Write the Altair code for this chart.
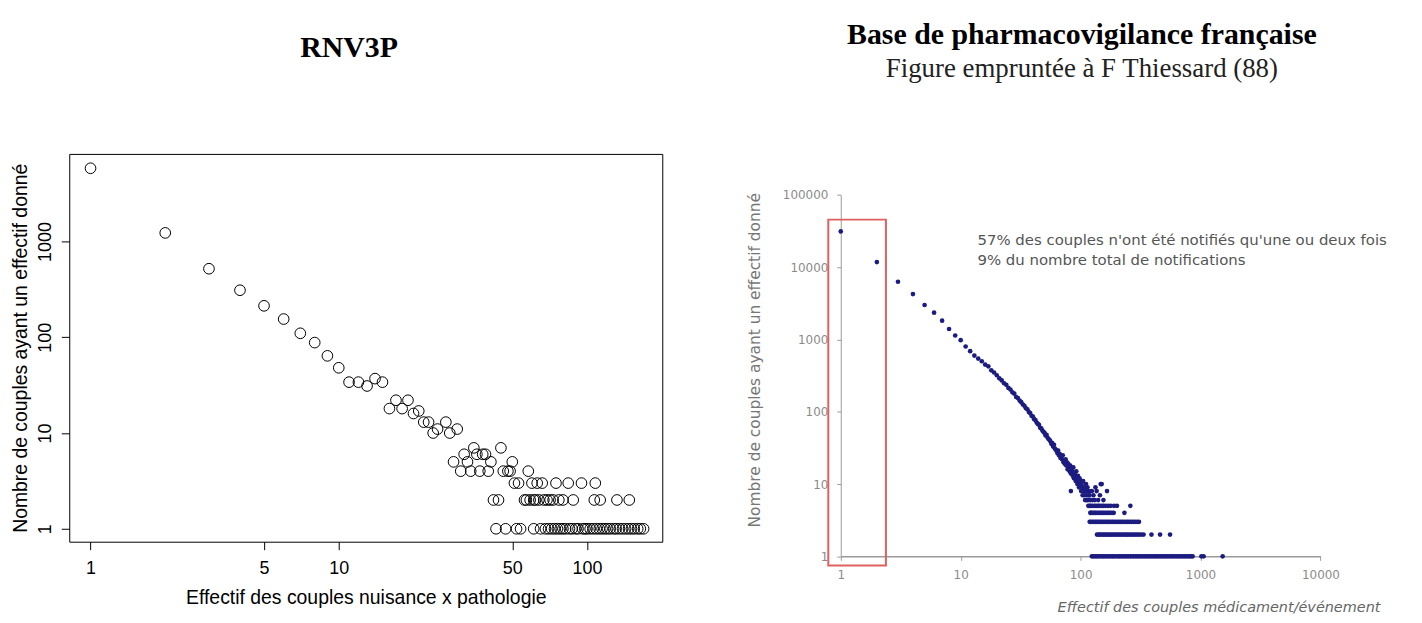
import altair as alt
import pandas as pd

# ================= DATA =================
# --- Left panel : RNV3P (effectif -> nombre de couples) ---
left_x = [1, 2, 3, 4, 5, 6, 7, 8, 9, 10,
          11, 12, 13, 14, 15,
          16, 17, 18, 19, 20, 21,
          22, 23, 24, 25, 27, 28, 30,
          29, 31, 32, 33, 34, 35, 36, 37, 38, 39, 40, 41,
          45, 46, 48, 49, 50,
          51, 53, 58, 60, 63, 66, 75, 84, 95, 108]
left_y = [5820, 1230, 520, 310, 213, 155, 110, 88, 64, 48,
          34, 34, 31, 37, 34,
          18, 22, 18, 22, 16, 17,
          13, 13, 10, 11, 13, 10, 11,
          5, 4, 6, 5, 4, 7, 6, 4, 6, 6, 4, 5,
          7, 4, 4, 4, 5,
          3, 3, 4, 3, 3, 3, 3, 3, 3, 3]
left_row2_x = [42, 44, 56, 57, 59, 61, 62, 64, 67, 69, 71, 73, 77, 80, 88, 107, 113, 132, 148]
left_row1_x = [43, 47, 52, 54, 61, 65, 68, 70, 72, 74, 76, 78, 80, 82, 85, 87, 90, 92, 96, 98,
               100, 103, 106, 109, 112, 115, 118, 121, 124, 128, 131, 135, 139, 143, 147,
               151, 155, 160, 164, 169]
left_xticks = [1, 5, 10, 50, 100]
left_yticks = [1, 10, 100, 1000]
left_xdomain = [0.821, 201]
left_ydomain = [0.733, 8220]

# --- Right panel : base de pharmacovigilance ---
right_x = [1, 2, 3, 4, 5, 6, 7, 8, 9,
           10, 11, 12, 13, 14, 15, 16, 17, 18, 19,
           20, 21, 22, 23, 24, 25, 26, 27, 28, 29,
           30, 31, 32, 33, 34, 35, 36, 37, 38, 39,
           40, 41, 42, 43, 44, 45, 46, 47, 48, 49,
           50, 51, 52, 53, 54, 55, 56, 57, 58, 59,
           60, 61, 62, 63, 64, 65, 66, 67, 68, 69,
           70, 71, 72, 73, 74, 75, 76, 77, 78, 79,
           80, 81, 82, 83, 84, 85, 86, 87, 88, 89,
           90, 91, 92, 93, 94, 95, 96, 97, 98, 99,
           100, 101, 102, 103, 104, 105, 106, 107, 108, 109,
           110, 111, 112, 113, 114, 115, 116, 117, 118, 119,
           120, 121]
right_y = [31300, 11800, 6300, 4250, 3000, 2350, 1825, 1400, 1135,
           980, 800, 690, 600, 545, 500, 450, 425, 375, 350,
           320, 290, 272, 248, 236, 214, 203, 186, 178, 160,
           155, 143, 136, 126, 121, 112, 108, 99, 96, 88,
           86, 79, 77, 71, 68, 66, 60, 59, 55, 53,
           51, 47, 48, 44, 42, 41, 39, 36, 37, 33,
           35, 31, 30, 29, 27, 29, 25, 26, 23, 24,
           22, 25, 20, 21, 19, 22, 18, 20, 16, 19,
           17, 15, 18, 14, 16, 15, 13, 17, 12, 14,
           13, 11, 15, 12, 10, 13, 11, 9, 12, 10,
           11, 8, 10, 9, 7, 11, 8, 9, 7, 6,
           8, 10, 6, 7, 9, 6, 5, 8, 7, 5,
           6, 4]
right_extra_x = [83, 147, 150, 166, 125, 131, 140, 155, 118, 128, 145, 112, 124, 136, 133]
right_extra_y = [8, 10, 10, 8, 6, 6, 6, 6, 7, 7, 7, 8, 8, 8, 9]
right_row_counts = [1, 2, 3, 4, 5]
right_row_x = [
    [124, 128, 132, 136, 140, 145, 150, 155, 160, 166, 172, 178, 184, 190, 197, 204, 211,
     218, 226, 234, 242, 250, 259, 268, 277, 287, 297, 307, 318, 329, 341, 353, 365, 378,
     391, 405, 419, 434, 449, 465, 481, 498, 515, 533, 552, 571, 591, 612, 634, 656, 679,
     703, 728, 754, 780, 808, 836, 860, 1017, 1062, 1530],
    [137, 141, 145, 150, 155, 160, 165, 170, 176, 182, 188, 194, 201, 208, 215, 223, 231,
     239, 247, 256, 265, 275, 285, 296, 307, 320, 335, 390, 460, 557],
    [119, 122, 126, 130, 134, 138, 142, 146, 151, 156, 161, 166, 171, 177, 183, 189, 195,
     202, 209, 216, 223, 231, 239, 247, 256, 265, 275, 285, 296, 307],
    [121, 124, 127, 130, 133, 137, 141, 145, 149, 153, 157, 162, 167, 172, 177, 183, 189, 232],
    [122, 126, 131, 135, 140, 144, 150, 155, 162, 170, 178, 190, 201, 260],
]
right_xticks = [1, 10, 100, 1000, 10000]
right_yticks = [1, 10, 100, 1000, 10000, 100000]
right_xdomain = [1, 10000]
right_ydomain = [1, 100000]
highlight_x = [0.787, 2.38]
highlight_y = [0.745, 45600]

titles = ["RNV3P", "Base de pharmacovigilance française", "Figure empruntée à F Thiessard (88)"]
annotation = ["57% des couples n'ont été notifiés qu'une ou deux fois",
              "9% du nombre total de notifications"]
left_xtitle = "Effectif des couples nuisance x pathologie"
left_ytitle = "Nombre de couples ayant un effectif donné"
right_xtitle = "Effectif des couples médicament/événement"
right_ytitle = "Nombre de couples ayant un effectif donné"

# ================= TABLES =================
left_df = pd.concat([
    pd.DataFrame({"x": left_x, "y": left_y}),
    pd.DataFrame({"x": left_row2_x, "y": [2] * len(left_row2_x)}),
    pd.DataFrame({"x": left_row1_x, "y": [1] * len(left_row1_x)}),
], ignore_index=True)

parts = [pd.DataFrame({"x": right_x, "y": right_y}),
         pd.DataFrame({"x": right_extra_x, "y": right_extra_y})]
for c, xs in zip(right_row_counts, right_row_x):
    parts.append(pd.DataFrame({"x": xs, "y": [c] * len(xs)}))
right_df = pd.concat(parts, ignore_index=True)
hl_df = pd.DataFrame({"x": [highlight_x[0]], "x2": [highlight_x[1]],
                      "y": [highlight_y[0]], "y2": [highlight_y[1]]})

# ================= LAYOUT (pixels) =================
W, H = 596.4, 390            # left panel frame = plot area
PAD_L, PAD_T = 61.6, 145
RX0, RX1 = 775.9, 1258.3     # right panel x range (relative to plot origin)
RY0, RY1 = 404.7, 41.3       # right panel y range

SANS = "Liberation Sans"
SERIF = "Liberation Serif"
BLUR = "DejaVu Sans"

# ---------- left panel ----------
lx_axis = alt.Axis(values=left_xticks, format="d", orient="bottom", domain=False, grid=False,
                   ticks=True, tickSize=8, tickColor="black", tickWidth=1,
                   labelFont=SANS, labelFontSize=18, labelColor="black", labelPadding=10,
                   labelFlush=False, labelOverlap=False, labelBaseline="top",
                   title=left_xtitle, titleFont=SANS, titleFontSize=19.5, titleFontWeight="normal",
                   titleColor="black", titleX=W / 2, titleY=56, titleAlign="center",
                   titleBaseline="middle")
ly_axis = alt.Axis(values=left_yticks, format="d", orient="left", domain=False, grid=False,
                   ticks=True, tickSize=8, tickColor="black", tickWidth=1,
                   labelFont=SANS, labelFontSize=18, labelColor="black", labelPadding=7,
                   labelAngle=270, labelAlign="center", labelBaseline="bottom",
                   labelFlush=False, labelOverlap=False,
                   title=left_ytitle, titleFont=SANS, titleFontSize=19.5, titleFontWeight="normal",
                   titleColor="black", titleAngle=270, titleX=-48.6, titleY=H / 2,
                   titleAlign="center", titleBaseline="middle")

left = alt.Chart(left_df).mark_point(shape="circle", filled=False, size=115, color="black",
                                     strokeWidth=1, opacity=1).encode(
    x=alt.X("x:Q", scale=alt.Scale(type="log", domain=left_xdomain, nice=False), axis=lx_axis),
    y=alt.Y("y:Q", scale=alt.Scale(type="log", domain=left_ydomain, nice=False), axis=ly_axis),
)

# ---------- right panel ----------
rx_scale = alt.Scale(type="log", domain=right_xdomain, range=[RX0, RX1], nice=False)
ry_scale = alt.Scale(type="log", domain=right_ydomain, range=[RY0, RY1], nice=False)
rx_axis = alt.Axis(values=right_xticks, format="d", orient="bottom", offset=14.7, grid=False,
                   domain=True, domainColor="#9a9a9a", domainWidth=1.5,
                   ticks=True, tickSize=4, tickColor="#9a9a9a",
                   labelFont=BLUR, labelFontSize=12, labelColor="#8a8a8a", labelPadding=9,
                   labelFlush=False, labelOverlap=False,
                   title=right_xtitle, titleFont=BLUR, titleFontSize=14.5, titleFontStyle="italic",
                   titleFontWeight="normal", titleColor="#666666", titleX=993.4, titleY=51,
                   titleAlign="left", titleBaseline="middle")
ry_axis = alt.Axis(values=right_yticks, format="d", orient="left", offset=-RX0, grid=False,
                   domain=True, domainColor="#9a9a9a", domainWidth=1,
                   ticks=True, tickSize=4, tickColor="#9a9a9a",
                   labelFont=BLUR, labelFontSize=12, labelColor="#8a8a8a", labelPadding=9,
                   labelFlush=False, labelOverlap=False,
                   title=right_ytitle, titleFont=BLUR, titleFontSize=15.5,
                   titleFontWeight="normal", titleColor="#777777", titleAngle=270,
                   titleX=-86.5, titleY=207, titleAlign="center", titleBaseline="middle")

r_rect = alt.Chart(hl_df).mark_rect(fillOpacity=0, stroke="#e06060", strokeWidth=2).encode(
    x=alt.X("x:Q", scale=rx_scale, axis=rx_axis), x2="x2:Q",
    y=alt.Y("y:Q", scale=ry_scale, axis=ry_axis), y2="y2:Q",
)
r_pts = alt.Chart(right_df).mark_circle(size=22, color="#1c1c80", opacity=1).encode(
    x=alt.X("x:Q", scale=rx_scale, axis=rx_axis),
    y=alt.Y("y:Q", scale=ry_scale, axis=ry_axis),
)
right = alt.layer(r_rect, r_pts)

# ---------- texts ----------
def txt(s, x, y, **kw):
    return alt.Chart(pd.DataFrame({"t": [s]})).mark_text(**kw).encode(
        text="t:N", x=alt.value(x), y=alt.value(y))

t1 = txt(titles[0], 281.4, -106, font=SERIF, fontSize=30, fontWeight="bold",
         align="center", baseline="middle", color="black")
t2 = txt(titles[1], 1018.4, -120, font=SERIF, fontSize=30, fontWeight="bold",
         align="center", baseline="middle", color="black")
t3 = txt(titles[2], 1018.4, -85, font=SERIF, fontSize=27, align="center",
         baseline="middle", color="#222222")
a1 = txt(annotation[0], 913.4, 87, font=BLUR, fontSize=15, align="left",
         baseline="middle", color="#555555")
a2 = txt(annotation[1], 913.4, 107, font=BLUR, fontSize=15, align="left",
         baseline="middle", color="#555555")

chart = alt.layer(left, right, t1, t2, t3, a1, a2).resolve_scale(
    x="independent", y="independent"
).properties(
    width=W, height=H,
    padding={"left": PAD_L, "top": PAD_T, "right": 1414 - PAD_L - W, "bottom": 78},
    autosize=alt.AutoSizeParams(type="none"),
).configure(
    background="white",
    view=alt.ViewConfig(stroke="black", strokeWidth=1),
)

chart.save("out.html", embed_options={"renderer": "svg", "actions": False})
